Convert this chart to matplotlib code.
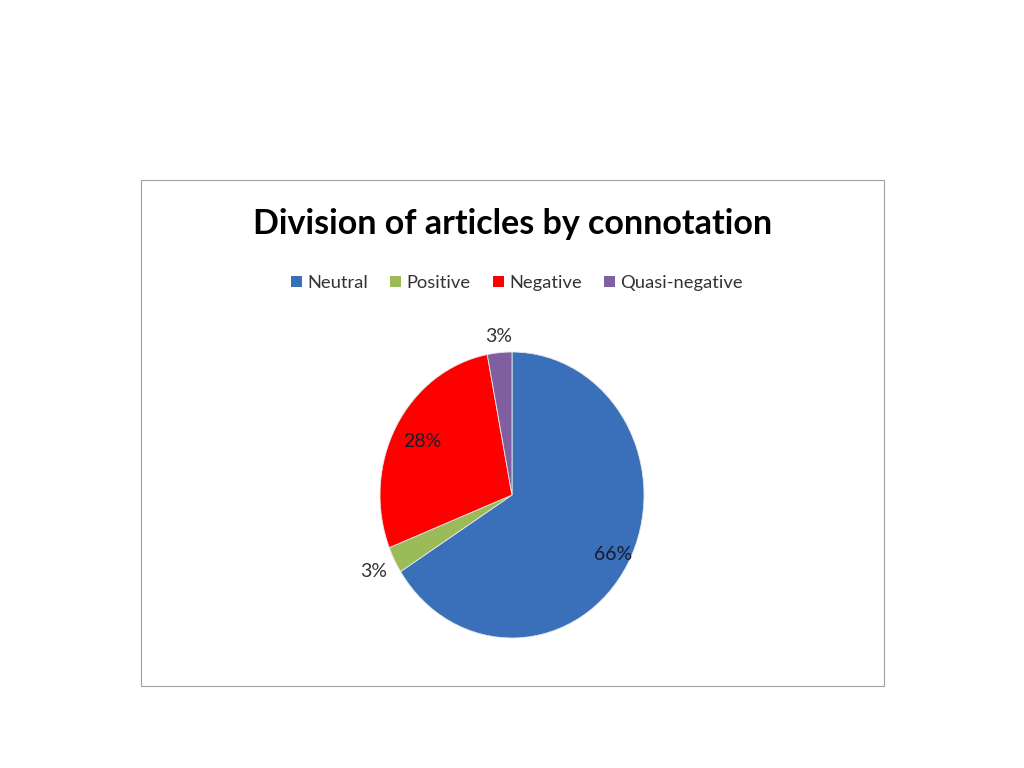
import matplotlib.pyplot as plt
from matplotlib.patches import Rectangle, Patch
import numpy as np

categories = ["Neutral", "Positive", "Negative", "Quasi-negative"]
shares = [66, 3, 28, 3]
labels = ["66%", "3%", "28%", "3%"]
colors = ["#3A6FB9", "#9BBB59", "#FF0000", "#7F5FA0"]
label_dist = [0.87, 1.18, 0.78, 1.11]   # where each % label sits

plt.rcParams['font.family'] = ['Lato', 'DejaVu Sans']

fig = plt.figure(figsize=(10.24, 7.68), dpi=100)
fig.patch.set_facecolor("white")

# chart frame
fig.patches.append(Rectangle((141/1024, 1-686/768), (884-141)/1024, (686-180)/768,
                             transform=fig.transFigure, fill=False,
                             edgecolor="#A0A0A0", linewidth=0.8))

ax = fig.add_axes([347/1024, 94.25/768, 330/1024, 357.5/768])
wedges, _ = ax.pie(shares, colors=colors, startangle=90, counterclock=False,
                   wedgeprops=dict(edgecolor="#E8E8E8", linewidth=0.6))
ax.set_aspect('auto')
ax.set_xlim(-1.25, 1.25)
ax.set_ylim(-1.25, 1.25)

for w, lab, d in zip(wedges, labels, label_dist):
    ang = np.deg2rad((w.theta1 + w.theta2) / 2)
    col = "#1a1a2a" if d < 1 else "#333333"
    ax.text(d*np.cos(ang), d*np.sin(ang), lab, ha="center", va="center",
            fontsize=14, color=col)

fig.text(513/1024, 1-224/768, "Division of articles by connotation",
         ha="center", va="center", fontsize=24.5, fontweight="bold", color="black")

handles = [Patch(facecolor=c, edgecolor="none") for c in colors]
fig.legend(handles, categories, loc="center", bbox_to_anchor=(517/1024, 1-283/768),
           ncol=4, frameon=False, fontsize=13.2, handlelength=0.6, handleheight=0.6,
           handletextpad=0.3, columnspacing=1.2, labelcolor="#333333")

fig.savefig("out.png", dpi=100)
